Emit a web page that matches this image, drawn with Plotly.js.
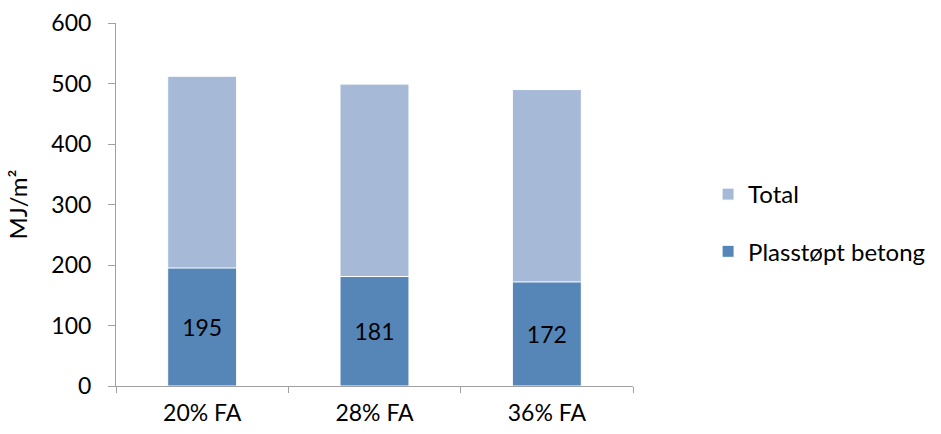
<!DOCTYPE html>
<html>
<head>
<meta charset="utf-8">
<script src="https://cdn.plot.ly/plotly-3.0.1.min.js"></script>
<style>html,body{margin:0;padding:0;background:#fff;}#chart{width:941px;height:434px;}</style>
</head>
<body>
<div id="chart"></div>
<script>
// Energy per square metre for three fly-ash contents
const categories = ['20% FA', '28% FA', '36% FA'];
const totalValues = [512, 499, 490];
const plasstoptValues = [195, 181, 172];
const yTicks = [0, 100, 200, 300, 400, 500, 600];

const font = 'Lato, "Open Sans", sans-serif';

const traces = [
  {
    type: 'bar',
    name: 'Total',
    legendgroup: 'total',
    x: categories,
    y: totalValues,
    marker: { color: '#A6BAD8', line: { color: '#ffffff', width: 1 } },
    width: 0.4,
    hoverinfo: 'x+y'
  },
  {
    type: 'bar',
    name: 'Plasstøpt betong',
    legendgroup: 'plasstopt',
    x: categories,
    y: plasstoptValues,
    marker: { color: '#5686B8', line: { color: '#ffffff', width: 1 } },
    width: 0.4,
    text: plasstoptValues.map(String),
    textposition: 'inside',
    insidetextanchor: 'middle',
    textfont: { family: font, size: 23, color: '#000000' },
    constraintext: 'none',
    hoverinfo: 'x+y'
  }
];

const layout = {
  width: 941,
  height: 434,
  margin: { l: 116, r: 307, t: 23, b: 48 },
  barmode: 'overlay',
  paper_bgcolor: '#ffffff',
  plot_bgcolor: '#ffffff',
  font: { family: font, size: 23, color: '#000000' },
  showlegend: true,
  legend: {
    x: 1.143, y: 0.449, xanchor: 'left', yanchor: 'middle',
    font: { family: font, size: 24, color: '#000000' },
    itemwidth: 30,
    tracegroupgap: 23,
    bgcolor: 'rgba(0,0,0,0)'
  },
  xaxis: {
    type: 'category',
    showline: true,
    linecolor: '#a0a0a0',
    linewidth: 1,
    ticks: 'outside',
    tickson: 'boundaries',
    ticklen: 6,
    tickcolor: '#a0a0a0',
    showgrid: false,
    tickfont: { family: font, size: 23 },
    ticklabelstandoff: 6,
    fixedrange: true
  },
  yaxis: {
    range: [0, 600],
    tickvals: yTicks,
    showline: true,
    linecolor: '#a0a0a0',
    linewidth: 1,
    ticks: 'outside',
    ticklen: 7,
    tickcolor: '#a0a0a0',
    showgrid: false,
    zeroline: false,
    tickfont: { family: font, size: 23 },
    ticklabelstandoff: 12,
    title: { text: 'MJ/m²', font: { family: font, size: 24 }, standoff: 16 },
    fixedrange: true
  }
};

Plotly.newPlot('chart', traces, layout, { displayModeBar: false, staticPlot: true });
</script>
</body>
</html>
